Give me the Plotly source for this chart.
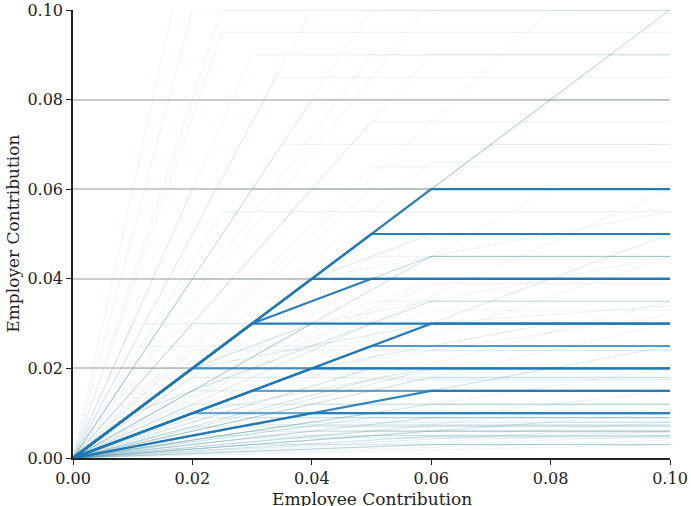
import plotly.graph_objects as go

# Each matching plan: match rates per tier, upper bound (employee contribution) of each tier, and how many plans share it
tier_rates = [
    # heavily shared plans
    [1.0], [1.0], [1.0], [1.0], [1.0, 0.5], [0.5], [0.5], [0.25], [0.25], [0.5],
    [1.0], [1.0, 0.5], [1.0, 0.5], [0.5], [0.5],
    # less common plans
    [1.0], [0.5], [0.25], [2.0], [2.0], [2.0], [2.0], [3.0], [4.0], [1.5],
    [1.5], [1.5], [2.0], [1.3], [2.5], [1.8], [3.8], [0.75], [0.75], [0.6],
    [0.67], [0.4], [0.33], [0.35], [0.2], [0.2], [0.15], [0.1], [0.1], [0.05],
    [0.3], [0.35], [0.125], [0.2], [0.15], [0.08], [1.0, 0.25], [0.5, 0.25], [1.0, 0.5], [0.75, 0.25],
    [1.0, 0.25], [0.5, 0.1], [5.0], [6.0], [3.0], [2.5], [1.25], [1.7], [1.0], [1.0],
    [1.0], [0.75], [0.6], [0.45], [0.3], [0.25], [0.2], [0.1], [0.12], [0.06],
    [0.04], [1.0, 0.5], [0.5, 0.25], [0.25], [0.4], [0.8], [0.9], [1.2], [0.7], [0.55],
    [0.15], [0.18], [0.1], [0.05], [0.03], [2.2], [1.1], [0.65], [0.5, 0.2], [0.3],
    [2.0], [2.5], [3.0], [1.5], [1.2], [0.9], [0.75], [0.6], [0.45], [0.35],
    [0.2], [0.15], [0.1], [0.08], [0.25], [0.3], [0.12], [0.18], [0.05], [0.07],
]
tier_limits = [
    [0.06], [0.03], [0.04], [0.05], [0.03, 0.05], [0.06], [0.04], [0.06], [0.04], [0.05],
    [0.02], [0.03, 0.06], [0.01, 0.06], [0.02], [0.03],
    [0.10], [0.10], [0.10], [0.03], [0.02], [0.04], [0.05], [0.03], [0.025], [0.06],
    [0.04], [0.05], [0.035], [0.05], [0.034], [0.05], [0.025], [0.06], [0.04], [0.05],
    [0.06], [0.05], [0.06], [0.10], [0.06], [0.05], [0.06], [0.06], [0.10], [0.10],
    [0.06], [0.05], [0.08], [0.10], [0.10], [0.10], [0.02, 0.06], [0.04, 0.08], [0.04, 0.06], [0.04, 0.10],
    [0.04, 0.10], [0.06, 0.10], [0.02], [0.0167], [0.02], [0.04], [0.08], [0.0588], [0.07], [0.08],
    [0.09], [0.08], [0.10], [0.10], [0.10], [0.08], [0.03], [0.03], [0.05], [0.10],
    [0.10], [0.02, 0.04], [0.02, 0.06], [0.03], [0.06], [0.05], [0.05], [0.05], [0.05], [0.06],
    [0.03], [0.05], [0.08], [0.06], [0.10], [0.025], [0.06], [0.06], [0.04, 0.10], [0.04],
    [0.01], [0.01], [0.01], [0.02], [0.02], [0.02], [0.02], [0.02], [0.02], [0.02],
    [0.04], [0.04], [0.05], [0.06], [0.02], [0.03], [0.06], [0.04], [0.06], [0.08],
]
plan_counts = [
    30, 24, 24, 20, 20, 28, 16, 16, 12, 9,
    7, 4, 3, 5, 5,
    4, 2, 2, 1, 2, 1, 1, 1, 1, 1,
    1, 1, 1, 1, 1, 1, 1, 2, 2, 1,
    1, 2, 2, 1, 2, 2, 2, 2, 1, 1,
    2, 2, 1, 1, 1, 1, 2, 2, 2, 1,
    1, 1, 1, 1, 1, 1, 1, 1, 1, 1,
    1, 1, 1, 1, 1, 1, 2, 2, 2, 1,
    1, 3, 2, 2, 1, 1, 1, 1, 1, 1,
    2, 2, 2, 2, 1, 1, 1, 1, 1, 2,
    2, 1, 1, 2, 1, 2, 2, 2, 2, 2,
    2, 2, 2, 2, 2, 2, 2, 2, 2, 2,
]

x_ticks = [0.00, 0.02, 0.04, 0.06, 0.08, 0.10]
y_ticks = [0.00, 0.02, 0.04, 0.06, 0.08, 0.10]
tick_text = ["0.00", "0.02", "0.04", "0.06", "0.08", "0.10"]
x_max = 0.10


def plan_path(rates, limits):
    xs, ys = [0.0], [0.0]
    prev_x, total = 0.0, 0.0
    for r, lim in zip(rates, limits):
        end = min(lim, x_max)
        total += r * (end - prev_x)
        prev_x = end
        xs.append(end)
        ys.append(total)
        if end >= x_max:
            break
    if xs[-1] < x_max:
        xs.append(x_max)
        ys.append(total)
    return xs, ys


fig = go.Figure()
order = sorted(range(len(plan_counts)), key=lambda i: plan_counts[i])
for i in order:
    xs, ys = plan_path(tier_rates[i], tier_limits[i])
    n = plan_counts[i]
    if n >= 5:
        color, width, op = "#1f77b4", 2.2, min(0.95, 0.55 + 0.02 * n)
    else:
        color, width, op = "rgb(70,145,160)", 1.0, min(0.45, 0.09 * n)
    fig.add_trace(go.Scatter(x=xs, y=ys, mode="lines",
                             line=dict(color=color, width=width),
                             opacity=op, hoverinfo="skip", showlegend=False))

font = "DejaVu Serif"
fig.update_layout(
    width=691, height=506,
    margin=dict(l=73, r=21, t=10, b=48, autoexpand=False),
    plot_bgcolor="white", paper_bgcolor="white",
    font=dict(family=font, size=16, color="#222"),
    showlegend=False,
)
fig.update_xaxes(range=[0, x_max], tickvals=x_ticks, ticktext=tick_text, automargin=False,
                 showgrid=False, zeroline=False, showline=True, linecolor="#222", linewidth=1.5,
                 ticks="outside", ticklen=5, tickwidth=1.2, tickcolor="#222")
fig.update_yaxes(range=[0, 0.10], tickvals=y_ticks, ticktext=tick_text, automargin=False,
                 showgrid=True, gridcolor="rgba(170,170,170,0.6)", gridwidth=1.5, zeroline=False,
                 showline=True, linecolor="#222", linewidth=1.5,
                 ticks="outside", ticklen=5, tickwidth=1.2, tickcolor="#222")
fig.add_annotation(text="Employee Contribution", xref="paper", yref="paper", x=0.5, y=-0.064,
                   xanchor="center", yanchor="top", showarrow=False,
                   font=dict(family=font, size=17, color="#222"))
fig.add_annotation(text="Employer Contribution", xref="paper", yref="paper", x=-0.101, y=0.5,
                   xanchor="center", yanchor="middle", textangle=-90, showarrow=False,
                   font=dict(family=font, size=17, color="#222"))
# remove the page's default body margin so the figure sits at the window's corner
fig.write_html("out.html", config={"displayModeBar": False},
               post_script="document.body.style.margin='0';document.body.style.overflow='hidden';")
